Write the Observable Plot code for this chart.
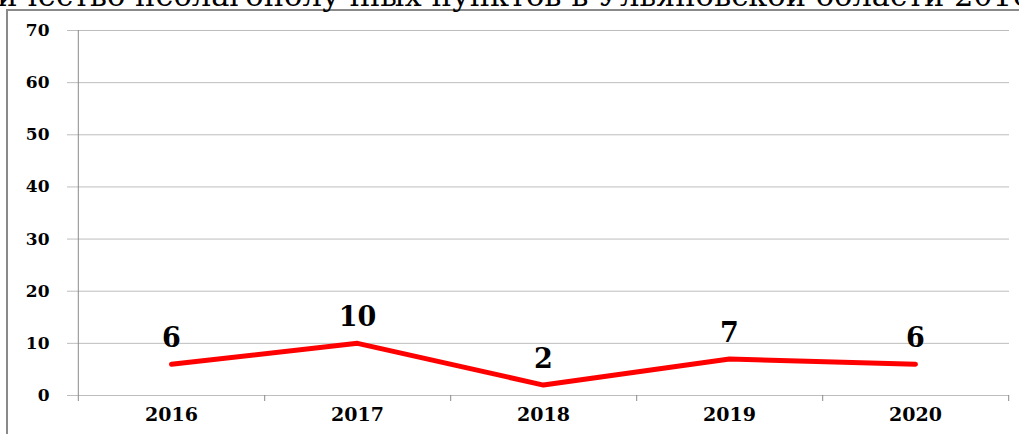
<!DOCTYPE html>
<html>
<head>
<meta charset="utf-8">
<script src="https://cdn.jsdelivr.net/npm/d3@7"></script>
<script src="https://cdn.jsdelivr.net/npm/@observablehq/plot@0.6"></script>
<style>
  html, body { margin: 0; padding: 0; background: #fff; overflow: hidden; }
  #wrap { position: relative; width: 1019px; height: 434px; overflow: hidden; }
  #title { position: absolute; left: -64px; top: -20px; white-space: nowrap;
           font-family: "DejaVu Serif", serif; font-size: 30.5px; line-height: 31px; color: #000; }
  #frame { position: absolute; left: 6px; top: 9px; width: 1020px; height: 440px;
           border-left: 2px solid #8a8a8a; border-top: 2px solid #8a8a8a; pointer-events: none; }
  #chart { position: absolute; left: 0; top: 0; }
</style>
</head>
<body>
<div id="wrap">
  <div id="chart"></div>
  <div id="frame"></div>
  <div id="title">Количество неблагополучных пунктов в Ульяновской области 2016-2020 гг.</div>
</div>
<script>
const years = ["2016", "2017", "2018", "2019", "2020"];
const values = [6, 10, 2, 7, 6];
const yTicks = [0, 10, 20, 30, 40, 50, 60, 70];

const data = years.map((year, i) => ({year, value: values[i]}));

const W = 1019, H = 434, ML = 77, MR = 10, MT = 30, MB = 39;
const bw = (W - ML - MR) / years.length;
const numFont = "DejaVu Serif";

const chart = Plot.plot({
  width: W,
  height: H,
  marginLeft: ML,
  marginRight: MR,
  marginTop: MT,
  marginBottom: MB,
  style: {background: "transparent"},
  x: {type: "point", domain: years, padding: 0.5, axis: null},
  y: {domain: [0, 70], axis: null},
  marks: [
    Plot.ruleY(yTicks, {y: d => d, stroke: "#bdbdbd", strokeWidth: 1, insetLeft: -10}),
    Plot.ruleX([years[0]], {x: d => d, dx: -bw / 2, y1: 70, y2: 0, insetBottom: -6, stroke: "#8a8a8a", strokeWidth: 1}),
    Plot.ruleX(years, {x: d => d, dx: bw / 2, y1: 0, y2: 0, insetBottom: -6, stroke: "#8a8a8a", strokeWidth: 1}),
    Plot.text(yTicks, {y: d => d, text: d => String(d), frameAnchor: "left", textAnchor: "end", dx: -28,
      fontFamily: numFont, fontWeight: "bold", fontSize: 17, fill: "#000"}),
    Plot.text(years, {x: d => d, text: d => d, frameAnchor: "bottom", dy: 25,
      fontFamily: numFont, fontWeight: "bold", fontSize: 19, fill: "#000", letterSpacing: 2}),
    Plot.line(data, {x: "year", y: "value", stroke: "#ff0000", strokeWidth: 5, strokeLinecap: "round", strokeLinejoin: "round"}),
    Plot.text(data, {x: "year", y: "value", text: d => String(d.value), dy: -26,
      fontFamily: numFont, fontWeight: "bold", fontSize: 27, fill: "#000"})
  ]
});
document.getElementById("chart").appendChild(chart);
</script>
</body>
</html>
